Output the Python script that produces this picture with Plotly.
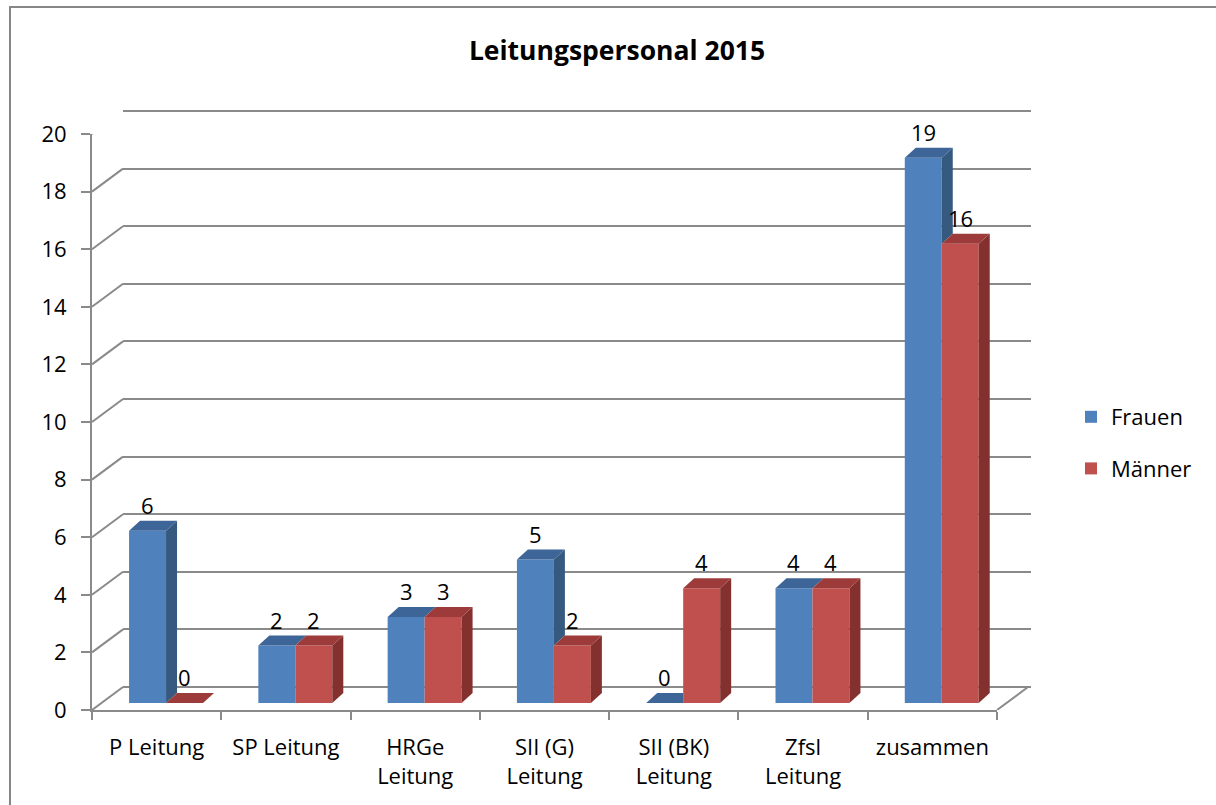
import plotly.graph_objects as go

# ---- data ----
categories = ["P Leitung", "SP Leitung", "HRGe<br>Leitung", "SII (G)<br>Leitung",
              "SII (BK)<br>Leitung", "Zfsl<br>Leitung", "zusammen"]
frauen = [6, 2, 3, 5, 0, 4, 19]
maenner = [0, 2, 3, 2, 4, 4, 16]
yticks = [0, 2, 4, 6, 8, 10, 12, 14, 16, 18, 20]
title_text = "Leitungspersonal 2015"

# ---- styling / geometry (pixels) ----
FONT = "Open Sans"
GRID = "#8a8a8a"
BLUE, BLUE_SIDE, BLUE_TOP = "#4F81BD", "#36597F", "#3D6597"
RED, RED_SIDE, RED_TOP = "#C0504D", "#83302E", "#9C3B39"

W, H = 1216, 805
L, R, T, B = 92, 1040, 100, 720          # plot area in px (paper)
PW, PH = R - L, B - T

def px(xp):
    return (xp - L) / PW

def py(yp):
    return (B - yp) / PH

AX_X0, AX_X1 = 92, 997        # front floor edge
AX_Y0, AX_Y20 = 710, 134      # front axis: value 0 and 20
DEPTH_X, DEPTH_Y = 31, 23     # wall depth px
BAR_X0, BAR_X1 = 101.4, 1006.4
BAR_Y0, BAR_PX_PER_UNIT = 703, 28.7
BAR_DX_PX, BAR_DY_PX = 11, 10
BARGAP = 0.428

n = len(categories)
xr = [-0.5, n - 0.5]
cat_px = (AX_X1 - AX_X0) / n
lab_px_per_unit = (AX_Y0 - AX_Y20) / 20
bar_dx = BAR_DX_PX / cat_px
bar_dy = BAR_DY_PX / BAR_PX_PER_UNIT
half = (1 - BARGAP) / 2
EXT = 0.1  # back-wall range extension so the end gridlines are drawn

fig = go.Figure()
fig.add_trace(go.Scatter(x=categories, y=frauen, mode="none", showlegend=False,
                         hoverinfo="skip", xaxis="x", yaxis="y"))
fig.add_trace(go.Scatter(x=categories, y=frauen, mode="none", showlegend=False,
                         hoverinfo="skip", xaxis="x2", yaxis="y2"))
fig.add_trace(go.Bar(x=categories, y=frauen, name="Frauen", marker=dict(color=BLUE, line=dict(width=0)),
                     xaxis="x3", yaxis="y3", legendgroup="f", hoverinfo="skip"))
fig.add_trace(go.Bar(x=categories, y=maenner, name="Männer", marker=dict(color=RED, line=dict(width=0)),
                     xaxis="x3", yaxis="y3", legendgroup="m", hoverinfo="skip"))

shapes = []
annotations = []

def poly(pts, color):
    path = "M " + " L ".join(f"{x},{y}" for x, y in pts) + " Z"
    return dict(type="path", path=path, xref="x3", yref="y3", fillcolor=color,
                line=dict(width=0), layer="above")

for i, (f, m) in enumerate(zip(frauen, maenner)):
    fl, fr = i - half, i
    ml, mr = i, i + half
    if f > m:
        shapes.append(poly([(fr, m), (fr, f), (fr + bar_dx, f + bar_dy), (fr + bar_dx, m + bar_dy)], BLUE_SIDE))
    if m > f:
        shapes.append(poly([(fl, f), (fr, f), (fr, f + bar_dy), (fl + bar_dx, f + bar_dy)], BLUE_TOP))
    else:
        shapes.append(poly([(fl, f), (fr, f), (fr + bar_dx, f + bar_dy), (fl + bar_dx, f + bar_dy)], BLUE_TOP))
    if m > 0:
        shapes.append(poly([(mr, 0), (mr, m), (mr + bar_dx, m + bar_dy), (mr + bar_dx, bar_dy)], RED_SIDE))
    shapes.append(poly([(ml, m), (mr, m), (mr + bar_dx, m + bar_dy), (ml + bar_dx, m + bar_dy)], RED_TOP))
    for xv, v in ((i - half / 2, f), (i + half / 2, m)):
        annotations.append(dict(x=xv, y=v, xref="x3", yref="y3", text=str(v), showarrow=False,
                                yshift=26, yanchor="middle", xanchor="center",
                                font=dict(family=FONT, size=22, color="#000000")))

# side-wall diagonals at each tick
for t in yticks:
    shapes.append(dict(type="line", xref="paper", yref="y2", x0=px(AX_X0), y0=t,
                       x1=px(AX_X0 + DEPTH_X), y1=t + DEPTH_Y / lab_px_per_unit,
                       line=dict(color=GRID, width=2), layer="below"))
# right floor edge
shapes.append(dict(type="line", xref="paper", yref="y2", x0=px(AX_X1), y0=0,
                   x1=px(AX_X1 + DEPTH_X), y1=DEPTH_Y / lab_px_per_unit,
                   line=dict(color=GRID, width=2), layer="below"))
# chart border
shapes.append(dict(type="rect", xref="paper", yref="paper", x0=px(10), x1=px(1300),
                   y0=py(900), y1=py(7), line=dict(color="#878787", width=2),
                   fillcolor="rgba(0,0,0,0)", layer="below"))

axis_font = dict(family=FONT, size=22, color="#000000")
ext_px = EXT * lab_px_per_unit

fig.update_layout(
    template="none",
    width=W, height=H,
    margin=dict(l=L, r=W - R, t=T, b=H - B, pad=0, autoexpand=False),
    paper_bgcolor="white", plot_bgcolor="rgba(0,0,0,0)",
    font=dict(family=FONT, size=22, color="#000000"),
    title=dict(text=f"<b>{title_text}</b>", x=617 / W, xref="container", xanchor="center",
               y=1 - 51 / H, yref="container", yanchor="middle",
               font=dict(family=FONT, size=26.5, color="#000000")),
    barmode="group", bargap=BARGAP, bargroupgap=0,
    showlegend=True,
    legend=dict(x=px(1071), y=py(443), xanchor="left", yanchor="middle",
                font=dict(family=FONT, size=22, color="#000000"), tracegroupgap=20,
                bgcolor="rgba(0,0,0,0)", borderwidth=0),
    xaxis=dict(domain=[px(AX_X0 + DEPTH_X), px(AX_X1 + DEPTH_X + 3)], type="category", range=xr,
               showgrid=False, showticklabels=False, ticks="", showline=False, zeroline=False,
               anchor="y", automargin=False),
    yaxis=dict(domain=[py(AX_Y0 - DEPTH_Y + ext_px), py(AX_Y20 - DEPTH_Y - ext_px)],
               range=[-EXT, 20 + EXT], tickvals=yticks, showgrid=True,
               gridcolor=GRID, gridwidth=2, showticklabels=False, ticks="", showline=False,
               zeroline=False, anchor="x", automargin=False),
    xaxis2=dict(domain=[px(AX_X0), px(AX_X1)], type="category", range=xr, showgrid=False,
                tickson="boundaries", ticks="outside", ticklen=8, tickwidth=2, tickcolor=GRID,
                showline=True, linecolor=GRID, linewidth=2, zeroline=False, anchor="y2",
                tickfont=axis_font, ticklabelstandoff=17, automargin=False),
    yaxis2=dict(domain=[py(AX_Y0), py(AX_Y20)], range=[0, 20], tickvals=yticks, showgrid=False,
                ticks="outside", ticklen=9, tickwidth=2, tickcolor=GRID, showline=True,
                linecolor=GRID, linewidth=2, zeroline=False, anchor="x2",
                tickfont=axis_font, ticklabelstandoff=10, automargin=False),
    xaxis3=dict(domain=[px(BAR_X0), px(BAR_X1)], type="category",
                range=xr, visible=False, anchor="y3"),
    yaxis3=dict(domain=[py(BAR_Y0), py(BAR_Y0 - 20 * BAR_PX_PER_UNIT)], range=[0, 20],
                visible=False, anchor="x3"),
    shapes=shapes, annotations=annotations,
)

fig.write_html("out.html", config={"displayModeBar": False},
               post_script="document.body.style.margin='0';document.body.style.overflow='hidden';")
